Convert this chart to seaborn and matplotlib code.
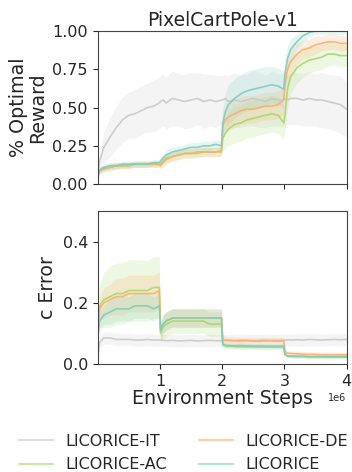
import pandas as pd
import numpy as np
import matplotlib
matplotlib.use("Agg")
import matplotlib.pyplot as plt
from matplotlib.lines import Line2D
import seaborn as sns

# environment steps, in millions
steps = [0.0, 0.03, 0.1, 0.2, 0.3, 0.4, 0.5, 0.6, 0.7, 0.8, 0.9, 0.99,
         1.01, 1.05, 1.1, 1.2, 1.3, 1.4, 1.5, 1.6, 1.7, 1.8, 1.9, 1.99,
         2.01, 2.05, 2.1, 2.2, 2.3, 2.4, 2.5, 2.6, 2.7, 2.8, 2.9, 2.99,
         3.01, 3.05, 3.1, 3.2, 3.3, 3.4, 3.5, 3.6, 3.7, 3.8, 3.9, 4.0]

methods = ["LICORICE-IT", "LICORICE-AC", "LICORICE-DE", "LICORICE"]
colors = {"LICORICE-IT": "#c9c9c9", "LICORICE-DE": "#fdae6b",
          "LICORICE-AC": "#a6d96a", "LICORICE": "#7fcdbb"}

# % optimal reward (mean, half-width of shaded band)
reward_it = [0.05, 0.15, 0.24, 0.31, 0.37, 0.42, 0.45, 0.46, 0.48, 0.50, 0.51, 0.53,
             0.54, 0.55, 0.53, 0.56, 0.55, 0.54, 0.55, 0.56, 0.54, 0.55, 0.54, 0.55,
             0.55, 0.56, 0.54, 0.55, 0.54, 0.55, 0.56, 0.55, 0.54, 0.56, 0.55, 0.55,
             0.56, 0.55, 0.56, 0.56, 0.55, 0.56, 0.55, 0.55, 0.54, 0.53, 0.52, 0.49]
reward_it_sd = [0.02, 0.06, 0.10, 0.13, 0.14, 0.15, 0.15, 0.16, 0.16, 0.16, 0.17, 0.17,
                0.17, 0.17, 0.17, 0.18, 0.17, 0.18, 0.18, 0.17, 0.18, 0.17, 0.17, 0.16,
                0.16, 0.16, 0.17, 0.18, 0.17, 0.17, 0.18, 0.18, 0.17, 0.18, 0.17, 0.17,
                0.17, 0.16, 0.17, 0.17, 0.17, 0.18, 0.17, 0.18, 0.18, 0.18, 0.19, 0.18]
reward_de = [0.05, 0.09, 0.10, 0.11, 0.12, 0.12, 0.12, 0.13, 0.13, 0.13, 0.13, 0.13,
             0.12, 0.14, 0.16, 0.18, 0.19, 0.20, 0.20, 0.21, 0.21, 0.21, 0.21, 0.22,
             0.38, 0.42, 0.44, 0.46, 0.48, 0.49, 0.49, 0.50, 0.51, 0.51, 0.52, 0.55,
             0.65, 0.75, 0.80, 0.85, 0.88, 0.89, 0.91, 0.92, 0.93, 0.93, 0.92, 0.92]
reward_de_sd = [0.01, 0.02, 0.02, 0.02, 0.02, 0.02, 0.02, 0.02, 0.02, 0.02, 0.02, 0.02,
                0.02, 0.03, 0.03, 0.03, 0.03, 0.03, 0.03, 0.03, 0.03, 0.03, 0.03, 0.03,
                0.08, 0.09, 0.09, 0.09, 0.09, 0.09, 0.09, 0.09, 0.09, 0.09, 0.09, 0.09,
                0.10, 0.09, 0.08, 0.07, 0.06, 0.06, 0.06, 0.05, 0.05, 0.05, 0.05, 0.05]
reward_ac = [0.05, 0.09, 0.10, 0.11, 0.12, 0.12, 0.12, 0.13, 0.13, 0.13, 0.13, 0.13,
             0.13, 0.15, 0.17, 0.18, 0.19, 0.20, 0.20, 0.20, 0.21, 0.21, 0.21, 0.21,
             0.30, 0.33, 0.36, 0.39, 0.40, 0.42, 0.43, 0.44, 0.45, 0.46, 0.45, 0.40,
             0.45, 0.62, 0.70, 0.76, 0.79, 0.81, 0.82, 0.83, 0.85, 0.85, 0.84, 0.84]
reward_ac_sd = [0.01, 0.02, 0.02, 0.02, 0.02, 0.02, 0.02, 0.02, 0.02, 0.02, 0.02, 0.02,
                0.02, 0.03, 0.03, 0.03, 0.03, 0.03, 0.03, 0.03, 0.03, 0.03, 0.03, 0.03,
                0.08, 0.10, 0.11, 0.12, 0.12, 0.12, 0.12, 0.12, 0.12, 0.12, 0.12, 0.10,
                0.10, 0.12, 0.11, 0.10, 0.09, 0.08, 0.08, 0.08, 0.08, 0.07, 0.07, 0.07]
reward_lic = [0.05, 0.09, 0.11, 0.12, 0.12, 0.13, 0.13, 0.13, 0.13, 0.13, 0.14, 0.14,
              0.15, 0.17, 0.19, 0.21, 0.22, 0.23, 0.24, 0.24, 0.25, 0.25, 0.26, 0.25,
              0.40, 0.47, 0.52, 0.56, 0.59, 0.61, 0.62, 0.63, 0.64, 0.65, 0.64, 0.62,
              0.72, 0.82, 0.88, 0.93, 0.97, 0.99, 1.00, 1.00, 1.00, 1.00, 1.00, 1.00]
reward_lic_sd = [0.01, 0.02, 0.02, 0.02, 0.02, 0.02, 0.02, 0.02, 0.02, 0.02, 0.02, 0.02,
                 0.02, 0.03, 0.03, 0.03, 0.03, 0.03, 0.03, 0.03, 0.03, 0.03, 0.03, 0.03,
                 0.10, 0.12, 0.13, 0.13, 0.13, 0.13, 0.13, 0.13, 0.13, 0.12, 0.12, 0.12,
                 0.10, 0.08, 0.07, 0.05, 0.04, 0.03, 0.02, 0.02, 0.02, 0.02, 0.02, 0.02]

# c error (mean, half-width of shaded band)
err_it = [0.02, 0.07, 0.085, 0.085, 0.08, 0.08, 0.08, 0.078, 0.078, 0.08, 0.078, 0.078,
          0.078, 0.077, 0.076, 0.077, 0.075, 0.076, 0.077, 0.075, 0.076, 0.077, 0.076, 0.076,
          0.077, 0.076, 0.077, 0.076, 0.078, 0.077, 0.076, 0.077, 0.078, 0.077, 0.077, 0.078,
          0.078, 0.079, 0.078, 0.079, 0.078, 0.080, 0.079, 0.078, 0.079, 0.080, 0.079, 0.080]
err_it_sd = [0.01, 0.02, 0.02, 0.02, 0.02, 0.02, 0.02, 0.02, 0.02, 0.02, 0.02, 0.02,
             0.02, 0.02, 0.02, 0.02, 0.02, 0.02, 0.02, 0.02, 0.02, 0.02, 0.02, 0.02,
             0.02, 0.02, 0.02, 0.02, 0.02, 0.02, 0.02, 0.02, 0.02, 0.02, 0.02, 0.02,
             0.02, 0.02, 0.02, 0.02, 0.02, 0.02, 0.02, 0.02, 0.02, 0.02, 0.02, 0.02]
err_de = [0.10, 0.18, 0.20, 0.21, 0.22, 0.22, 0.23, 0.23, 0.23, 0.23, 0.23, 0.24,
          0.11, 0.13, 0.14, 0.15, 0.15, 0.15, 0.15, 0.15, 0.15, 0.15, 0.15, 0.15,
          0.080, 0.078, 0.077, 0.076, 0.075, 0.076, 0.075, 0.074, 0.075, 0.075, 0.074, 0.075,
          0.040, 0.035, 0.034, 0.033, 0.032, 0.031, 0.031, 0.030, 0.030, 0.030, 0.030, 0.030]
err_de_sd = [0.02, 0.04, 0.05, 0.05, 0.06, 0.06, 0.06, 0.06, 0.06, 0.06, 0.06, 0.06,
             0.02, 0.03, 0.03, 0.03, 0.03, 0.03, 0.03, 0.03, 0.03, 0.03, 0.03, 0.03,
             0.012, 0.012, 0.012, 0.012, 0.012, 0.012, 0.012, 0.012, 0.012, 0.012, 0.012, 0.012,
             0.008, 0.008, 0.008, 0.008, 0.008, 0.008, 0.008, 0.008, 0.008, 0.008, 0.008, 0.008]
err_ac = [0.10, 0.19, 0.21, 0.22, 0.23, 0.23, 0.24, 0.24, 0.24, 0.24, 0.25, 0.25,
          0.10, 0.12, 0.13, 0.14, 0.14, 0.14, 0.14, 0.14, 0.14, 0.13, 0.13, 0.13,
          0.065, 0.060, 0.058, 0.057, 0.056, 0.056, 0.056, 0.055, 0.055, 0.055, 0.055, 0.055,
          0.030, 0.026, 0.025, 0.024, 0.024, 0.023, 0.023, 0.023, 0.022, 0.022, 0.022, 0.022]
err_ac_sd = [0.02, 0.07, 0.09, 0.10, 0.10, 0.10, 0.10, 0.10, 0.10, 0.10, 0.10, 0.10,
             0.03, 0.04, 0.04, 0.04, 0.04, 0.04, 0.04, 0.04, 0.04, 0.04, 0.04, 0.04,
             0.008, 0.008, 0.008, 0.008, 0.008, 0.008, 0.008, 0.008, 0.008, 0.008, 0.008, 0.008,
             0.005, 0.005, 0.005, 0.005, 0.005, 0.005, 0.005, 0.005, 0.005, 0.005, 0.005, 0.005]
err_lic = [0.09, 0.14, 0.16, 0.17, 0.18, 0.18, 0.18, 0.19, 0.19, 0.19, 0.18, 0.19,
           0.11, 0.13, 0.14, 0.15, 0.15, 0.15, 0.15, 0.15, 0.15, 0.15, 0.15, 0.15,
           0.062, 0.060, 0.060, 0.059, 0.060, 0.059, 0.058, 0.059, 0.058, 0.058, 0.058, 0.058,
           0.030, 0.026, 0.025, 0.025, 0.025, 0.024, 0.024, 0.024, 0.024, 0.024, 0.024, 0.024]
err_lic_sd = [0.02, 0.03, 0.03, 0.04, 0.04, 0.04, 0.04, 0.04, 0.04, 0.04, 0.04, 0.04,
              0.03, 0.03, 0.03, 0.03, 0.03, 0.03, 0.03, 0.03, 0.03, 0.03, 0.03, 0.03,
              0.008, 0.008, 0.008, 0.008, 0.008, 0.008, 0.008, 0.008, 0.008, 0.008, 0.008, 0.008,
              0.005, 0.005, 0.005, 0.005, 0.005, 0.005, 0.005, 0.005, 0.005, 0.005, 0.005, 0.005]

reward = {"LICORICE-IT": (reward_it, reward_it_sd), "LICORICE-AC": (reward_ac, reward_ac_sd),
          "LICORICE-DE": (reward_de, reward_de_sd), "LICORICE": (reward_lic, reward_lic_sd)}
error = {"LICORICE-IT": (err_it, err_it_sd), "LICORICE-AC": (err_ac, err_ac_sd),
         "LICORICE-DE": (err_de, err_de_sd), "LICORICE": (err_lic, err_lic_sd)}


def to_long(curves):
    frames = []
    for name in methods:
        mean, sd = curves[name]
        frames.append(pd.DataFrame({"step": np.array(steps) * 1e6, "value": mean,
                                    "lo": np.array(mean) - np.array(sd),
                                    "hi": np.array(mean) + np.array(sd), "method": name}))
    return pd.concat(frames, ignore_index=True)


sns.set_style("ticks")
plt.rcParams["axes.edgecolor"] = "#444444"

fig = plt.figure(figsize=(3.52, 4.72), dpi=100)
ax1 = fig.add_axes([0.2776, 0.610, 0.707, 0.324])
ax2 = fig.add_axes([0.2776, 0.229, 0.707, 0.324], sharex=ax1)

for ax, curves in [(ax1, reward), (ax2, error)]:
    df = to_long(curves)
    for name in methods:
        sub = df[df.method == name]
        ax.fill_between(sub.step, sub.lo, sub.hi, color=colors[name], alpha=0.2, linewidth=0)
    sns.lineplot(data=df, x="step", y="value", hue="method", hue_order=methods,
                 palette=colors, ax=ax, legend=False, linewidth=1.2, alpha=0.9)
    ax.tick_params(labelsize=11.5)

ax1.set_ylim(0, 1)
ax1.set_yticks([0, 0.25, 0.5, 0.75, 1.0])
ax1.set_ylabel("% Optimal\nReward", fontsize=13.7, linespacing=1.0)
ax1.set_xlabel("")
ax1.set_title("PixelCartPole-v1", fontsize=13.5, pad=4)
ax1.tick_params(labelbottom=False)

ax2.set_xlim(0, 4e6)
ax2.set_xticks([1e6, 2e6, 3e6, 4e6])
ax2.set_ylim(0, 0.5)
ax2.set_yticks([0, 0.2, 0.4])
ax2.set_ylabel("c Error", fontsize=13.7)
ax2.set_xlabel("Environment Steps", fontsize=13.7, labelpad=0)
ax2.xaxis.get_offset_text().set_fontsize(7)

for ax in (ax1, ax2):
    for side in ["top", "right"]:
        ax.spines[side].set_visible(True)

handles = [Line2D([], [], color=colors[m], alpha=0.6, linewidth=1.5) for m in methods]
fig.legend(handles, methods, loc="upper center", bbox_to_anchor=(0.522, 0.105),
           ncol=2, frameon=False, fontsize=11.5, handlelength=2.1,
           columnspacing=2.0, handletextpad=0.8, labelspacing=0.55,
           borderpad=0.2)

fig.savefig("out.png", dpi=100)
